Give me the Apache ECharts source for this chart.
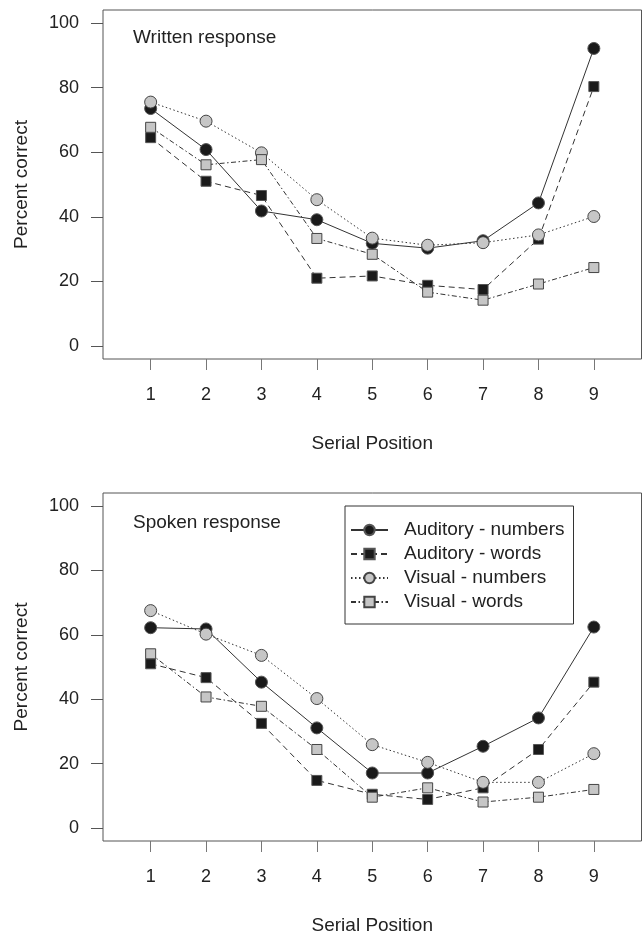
<!DOCTYPE html>
<html>
<head>
<meta charset="utf-8">
<script src="https://cdn.jsdelivr.net/npm/echarts@6/dist/echarts.min.js"></script>
<style>
html,body{margin:0;padding:0;background:#fff;}
#c{width:644px;height:936px;}
</style>
</head>
<body>
<div id="c"></div>
<script>
const positions = [1, 2, 3, 4, 5, 6, 7, 8, 9];
const yTicks = [0, 20, 40, 60, 80, 100];
const seriesNames = ['Auditory - numbers', 'Auditory - words', 'Visual - numbers', 'Visual - words'];
const panelTitles = ['Written response', 'Spoken response'];

const writtenAudNum   = [73.5, 60.8, 41.8, 39.1, 31.8, 30.3, 32.6, 44.3, 92.1];
const writtenAudWords = [64.5, 51.0, 46.6, 21.0, 21.7, 18.8, 17.5, 33.1, 80.3];
const writtenVisNum   = [75.5, 69.6, 59.8, 45.3, 33.4, 31.2, 32.0, 34.4, 40.1];
const writtenVisWords = [67.7, 56.1, 57.7, 33.3, 28.4, 16.7, 14.2, 19.2, 24.3];

const spokenAudNum    = [62.2, 61.8, 45.3, 31.1, 17.1, 17.1, 25.4, 34.2, 62.4];
const spokenAudWords  = [51.0, 46.7, 32.5, 14.8, 10.5, 8.9, 12.5, 24.4, 45.3];
const spokenVisNum    = [67.5, 60.2, 53.6, 40.2, 25.9, 20.4, 14.2, 14.2, 23.1];
const spokenVisWords  = [54.1, 40.7, 37.8, 24.4, 9.6, 12.5, 8.1, 9.6, 12.0];

const FONT = '"Liberation Sans", Arial, Helvetica, sans-serif';
const TXT = '#222';

const styles = [
  {symbol: 'circle', size: 12, fill: '#1a1a1a', border: '#555', dash: 'solid'},
  {symbol: 'rect', size: 10, fill: '#1a1a1a', border: '#555', dash: [6, 4]},
  {symbol: 'circle', size: 12, fill: '#c6c6c6', border: '#444', dash: [1.5, 2.5]},
  {symbol: 'rect', size: 10, fill: '#c6c6c6', border: '#444', dash: [5, 2.5, 1.5, 2.5]}
];

const panels = [
  [writtenAudNum, writtenAudWords, writtenVisNum, writtenVisWords],
  [spokenAudNum, spokenAudWords, spokenVisNum, spokenVisWords]
];

const gridTops = [10, 493];
const grids = gridTops.map(t => ({
  left: 103, top: t, width: 538.5, height: 349,
  show: true, borderColor: '#555', borderWidth: 1, backgroundColor: 'transparent'
}));

const xAxes = gridTops.map((t, gi) => ({
  type: 'value', gridIndex: gi, min: 0.14, max: 9.86, position: 'bottom',
  axisLine: {show: false, onZero: false},
  splitLine: {show: false},
  axisTick: {show: true, length: 11, customValues: positions, lineStyle: {color: '#777', width: 1}},
  axisLabel: {show: true, customValues: positions, margin: 27, fontSize: 18, color: TXT, fontFamily: FONT},
  name: 'Serial Position', nameLocation: 'middle', nameGap: 75,
  nameTextStyle: {fontSize: 19, color: TXT, fontFamily: FONT}
}));

const yAxes = gridTops.map((t, gi) => ({
  type: 'value', gridIndex: gi, min: -4, max: 104, position: 'left',
  axisLine: {show: false, onZero: false},
  splitLine: {show: false},
  axisTick: {show: true, length: 12, customValues: yTicks, lineStyle: {color: '#555', width: 1}},
  axisLabel: {show: true, customValues: yTicks, margin: 24, fontSize: 18, color: TXT, fontFamily: FONT},
  name: 'Percent correct', nameLocation: 'middle', nameGap: 72, nameRotate: 90,
  nameTextStyle: {fontSize: 19, color: TXT, fontFamily: FONT}
}));

const series = [];
panels.forEach((arrs, gi) => {
  arrs.forEach((arr, si) => {
    const st = styles[si];
    series.push({
      type: 'line', name: seriesNames[si],
      xAxisIndex: gi, yAxisIndex: gi,
      data: positions.map((x, i) => [x, arr[i]]),
      symbol: st.symbol, symbolSize: st.size,
      lineStyle: {color: '#333', width: 1, type: st.dash},
      itemStyle: {color: st.fill, borderColor: st.border, borderWidth: 1},
      emphasis: {disabled: true},
      z: 2 + si
    });
  });
});

const graphics = panelTitles.map((t, i) => ({
  type: 'text', left: 133, top: (i === 0 ? 39.5 : 524.5) - 11,
  style: {text: t, fontSize: 19, fill: TXT, fontFamily: FONT}
}));

const option = {
  backgroundColor: '#fff',
  animation: false,
  grid: grids,
  xAxis: xAxes,
  yAxis: yAxes,
  series: series,
  graphic: graphics,
  legend: {
    data: seriesNames,
    orient: 'vertical', left: 345, top: 506,
    backgroundColor: '#fff', borderColor: '#333', borderWidth: 1,
    padding: [14, 9, 12, 5],
    itemWidth: 37, itemHeight: 13, itemGap: 4,
    selectedMode: false,
    textStyle: {fontSize: 19, lineHeight: 20, color: TXT, fontFamily: FONT, padding: [0, 0, 0, 11]}
  }
};

const chart = echarts.init(document.getElementById('c'), null, {renderer: 'canvas'});
chart.setOption(option);
</script>
</body>
</html>
